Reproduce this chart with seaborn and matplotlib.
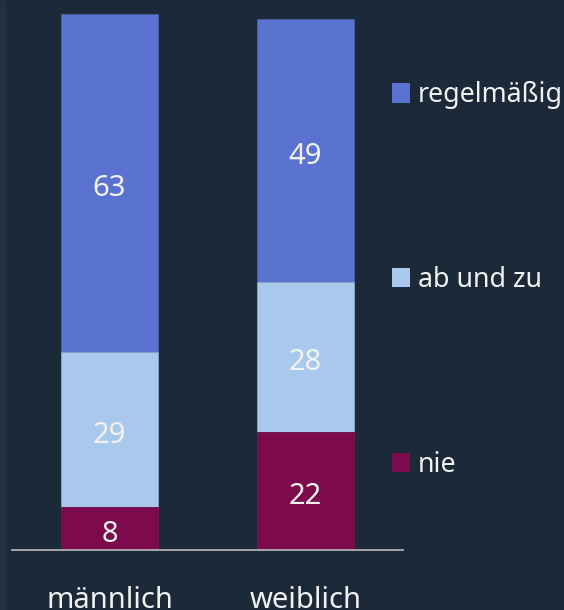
import matplotlib
matplotlib.use("Agg")
import matplotlib.pyplot as plt
import pandas as pd
import seaborn as sns
from matplotlib.patches import Patch

# data
categories = ["männlich", "weiblich"]
nie = [8, 22]
ab_und_zu = [29, 28]
regelmaessig = [63, 49]
series_labels = ["regelmäßig", "ab und zu", "nie"]
colors = {"regelmäßig": "#5b73d0", "ab und zu": "#a8c9ec", "nie": "#7e0a4e"}

BG = "#1c2938"
TEXT = "#f2f2f2"

sns.set_theme(style="white")
plt.rcParams["font.family"] = ["Noto Sans", "DejaVu Sans"]

df = pd.DataFrame({
    "cat": categories,
    "nie": nie,
    "ab und zu": ab_und_zu,
    "regelmäßig": regelmaessig,
})
# cumulative heights for stacking
df["top_ab"] = df["nie"] + df["ab und zu"]
df["top_reg"] = df["top_ab"] + df["regelmäßig"]

fig = plt.figure(figsize=(5.64, 6.10), dpi=100, facecolor=BG)
# slightly lighter strip on the far left
fig.add_artist(plt.Rectangle((0, 0), 5 / 564, 1, transform=fig.transFigure,
                             color="#213142", zorder=0))
ax = fig.add_axes([12 / 564, 60 / 610, 391 / 564, 536 / 610])
ax.set_facecolor(BG)

bw = 0.495
sns.barplot(data=df, x="cat", y="top_reg", color=colors["regelmäßig"], width=bw,
            ax=ax, edgecolor="#4d5f9a", linewidth=0.6, saturation=1)
sns.barplot(data=df, x="cat", y="top_ab", color=colors["ab und zu"], width=bw,
            ax=ax, edgecolor="#8aa0c0", linewidth=0.6, saturation=1)
sns.barplot(data=df, x="cat", y="nie", color=colors["nie"], width=bw,
            ax=ax, edgecolor="#6a0a44", linewidth=0.6, saturation=1)

# value labels in the middle of each segment
for i in range(len(categories)):
    segs = [(0, nie[i]), (df["nie"][i], ab_und_zu[i]), (df["top_ab"][i], regelmaessig[i])]
    for base, val in segs:
        ax.text(i, base + val / 2 - 1.1, str(val), ha="center", va="center",
                color=TEXT, fontsize=21)

ax.set_xlim(-0.497, 1.497)
ax.set_ylim(0, 100)
ax.set_xlabel("")
ax.set_ylabel("")
ax.set_yticks([])
ax.tick_params(axis="x", length=0, pad=26, labelsize=21, labelcolor=TEXT)
for s in ["top", "right", "left"]:
    ax.spines[s].set_visible(False)
ax.spines["bottom"].set_color("#b0b0b0")
ax.spines["bottom"].set_linewidth(1.3)

handles = [Patch(facecolor=colors[k], edgecolor="none", label=k) for k in series_labels]
leg = fig.legend(handles=handles, loc="upper left", bbox_to_anchor=(368 / 564, 1 - 57 / 610),
                 frameon=False, fontsize=19.3, labelcolor=TEXT, handlelength=0.65,
                 handleheight=0.75, handletextpad=0.3, labelspacing=5.85)

fig.savefig("out.png", dpi=100, facecolor=BG)
